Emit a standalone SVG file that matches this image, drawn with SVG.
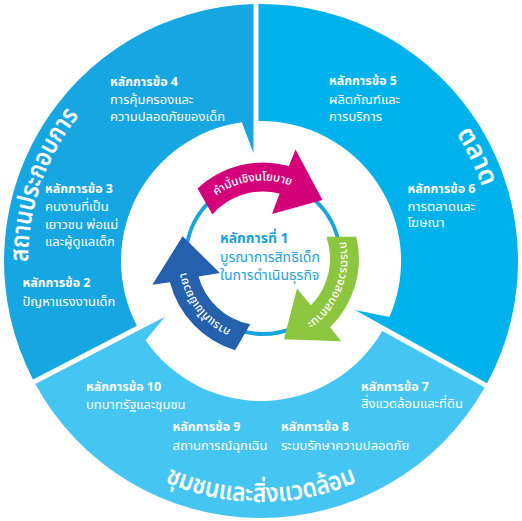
<svg xmlns="http://www.w3.org/2000/svg" width="522" height="521" viewBox="0 0 522 521">
<style>
text { font-family: 'Noto Sans Thai','Noto Sans','DejaVu Sans',sans-serif; }
.lbl { fill:#ffffff; font-size:13px; }
.hd { fill:#ffffff; font-size:12.5px; font-weight:700; }
.title { fill:#ffffff; font-size:26px; font-weight:600; }
.ctr { fill:#1ba1dc; font-size:14px; }
.ctrb { fill:#1ba1dc; font-size:14px; font-weight:700; }
.arw { fill:#ffffff; font-size:11.5px; font-weight:500; }
</style>
<defs>
<path id="arrowShape" d="M197.5,188.5 A96,96 0 0 1 288.9,166 L295.5,149.5 L322.5,200 L272,214 L279.6,193.6 A67,67 0 0 0 212.4,214.5 Z"/>
<path id="arrowText" d="M273.86,335.74 A78,78 0 1 1 252.14,181.26 A78,78 0 1 1 273.86,335.74"/>
<path id="titleCW" d="M261,494 A233,233 0 1 1 261,28 A233,233 0 1 1 261,494"/>
<path id="titleCCW" d="M261,20 A241,241 0 1 0 261,502 A241,241 0 1 0 261,20"/>
</defs>
<rect width="522" height="521" fill="#ffffff"/>

<g id="sector-business">
<path fill="#16a6e1" d="M33,379.5 A257,257 0 0 1 253.5,4.1 L253.5,153.3 L241.8,122.3 A140,140 0 0 0 136.9,325.7 Z"/>
<text class="title"><textPath href="#titleCW" startOffset="444" text-anchor="middle" textLength="158" lengthAdjust="spacingAndGlyphs">สถานประกอบการ</textPath></text>
<text class="hd" x="110" y="85.5">หลักการข้อ 4</text>
<text class="lbl" x="110" y="104">การคุ้มครองและ</text>
<text class="lbl" x="110" y="121">ความปลอดภัยของเด็ก</text>
<text class="hd" x="45" y="193">หลักการข้อ 3</text>
<text class="lbl" x="45" y="211">คนงานที่เป็น</text>
<text class="lbl" x="45" y="228.5">เยาวชน พ่อแม่</text>
<text class="lbl" x="45" y="245.5">และผู้ดูแลเด็ก</text>
<text class="hd" x="22.5" y="287">หลักการข้อ 2</text>
<text class="lbl" x="22.5" y="306">ปัญหาแรงงานเด็ก</text>
</g>

<g id="sector-market">
<path fill="#00b2eb" d="M258.5,4 A257,257 0 0 1 487.1,383.2 L355,310 L389.4,316.9 A140,140 0 0 0 258.5,121 Z"/>
<text class="title"><textPath href="#titleCW" startOffset="992.6" text-anchor="middle" textLength="60" lengthAdjust="spacingAndGlyphs">ตลาด</textPath></text>
<text class="hd" x="329" y="85">หลักการข้อ 5</text>
<text class="lbl" x="329" y="103.5">ผลิตภัณฑ์และ</text>
<text class="lbl" x="329" y="120.7">การบริการ</text>
<text class="hd" x="407.5" y="192.7">หลักการข้อ 6</text>
<text class="lbl" x="407.5" y="210.5">การตลาดและ</text>
<text class="lbl" x="407.5" y="227">โฆษณา</text>
</g>

<g id="sector-community">
<path fill="#45c5f1" d="M484.7,387.6 A257,257 0 0 1 35.3,383.9 L165,316.7 L145.6,340.3 A140,140 0 0 0 382.3,330.9 Z"/>
<text class="title"><textPath href="#titleCCW" startOffset="50%" text-anchor="middle" textLength="198" lengthAdjust="spacingAndGlyphs">ชุมชนและสิ่งแวดล้อม</textPath></text>
<text class="hd" x="86" y="391">หลักการข้อ 10</text>
<text class="lbl" x="86" y="409">บทบาทรัฐและชุมชน</text>
<text class="hd" x="172.5" y="431">หลักการข้อ 9</text>
<text class="lbl" x="172.5" y="450">สถานการณ์ฉุกเฉิน</text>
<text class="hd" x="281" y="431">หลักการข้อ 8</text>
<text class="lbl" x="281" y="450">ระบบรักษาความปลอดภัย</text>
<text class="hd" x="361" y="391">หลักการข้อ 7</text>
<text class="lbl" x="361" y="407.5">สิ่งแวดล้อมและที่ดิน</text>
</g>

<g id="connectors">
<circle cx="263" cy="257" r="77" fill="none" stroke="#1aa3df" stroke-width="4"/>
</g>

<g id="arrow-policy">
<use href="#arrowShape" fill="#d4007a"/>
<text class="arw"><textPath href="#arrowText" startOffset="50%" text-anchor="middle">คำมั่นเชิงนโยบาย</textPath></text>
</g>
<g id="arrow-diligence" transform="rotate(120 263 258.5)">
<use href="#arrowShape" fill="#8cc63e"/>
<text class="arw"><textPath href="#arrowText" startOffset="50%" text-anchor="middle">การตรวจสอบสถานะ</textPath></text>
</g>
<g id="arrow-remedy" transform="rotate(240 263 258.5)">
<use href="#arrowShape" fill="#2560ad"/>
<text class="arw"><textPath href="#arrowText" startOffset="50%" text-anchor="middle">การแก้ไขเยียวยา</textPath></text>
</g>

<g id="center">
<text class="ctrb" x="220" y="243.3">หลักการที่ 1</text>
<text class="ctr" x="220" y="261.7">บูรณาการสิทธิเด็ก</text>
<text class="ctr" x="220" y="280">ในการดำเนินธุรกิจ</text>
</g>
</svg>
